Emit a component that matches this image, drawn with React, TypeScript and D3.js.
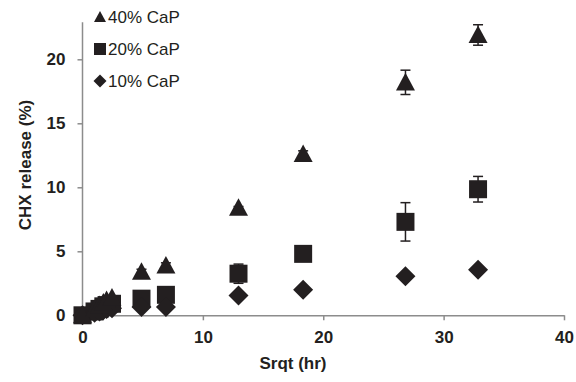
import React, { useEffect, useRef } from "react";
import * as d3 from "d3";

// sqrt(hours) sampling times
const sqrtHours = [0, 1, 1.41, 1.73, 2, 2.45, 4.9, 6.93, 12.96, 18.33, 26.83, 32.86];

const cap40 = [0, 0.5, 0.8, 1.0, 1.2, 1.4, 3.4, 3.9, 8.4, 12.6, 18.2, 21.9];
const cap40Err = [0, 0, 0, 0, 0, 0, 0.2, 0.2, 0.1, 0.25, 0.95, 0.8];

const cap20 = [0, 0.3, 0.5, 0.7, 0.8, 0.9, 1.3, 1.6, 3.25, 4.8, 7.3, 9.85];
const cap20Err = [0, 0, 0, 0, 0, 0, 0.1, 0.2, 0.75, 0.1, 1.5, 1.0];

const cap10 = [0, 0.2, 0.3, 0.4, 0.5, 0.55, 0.65, 0.65, 1.55, 2.0, 3.05, 3.55];
const cap10Err = [0, 0, 0, 0, 0, 0, 0, 0, 0.1, 0, 0, 0];

const seriesNames = ["40% CaP", "20% CaP", "10% CaP"];
const xTicks = [0, 10, 20, 30, 40];
const yTicks = [0, 5, 10, 15, 20];

const shapePath = (kind: string, s: number) => {
  const h = s / 2;
  if (kind === "tri") return `M0,${-h}L${h},${h * 0.85}L${-h},${h * 0.85}Z`;
  if (kind === "sq") return `M${-h},${-h}H${h}V${h}H${-h}Z`;
  return `M0,${-h}L${h},0L0,${h}L${-h},0Z`;
};

export default function App() {
  const ref = useRef<SVGSVGElement>(null);

  useEffect(() => {
    const svg = d3.select(ref.current);
    svg.selectAll("*").remove();

    const x = d3.scaleLinear().domain([0, 40]).range([82.5, 564]);
    const y = d3.scaleLinear().domain([0, 20]).range([315.3, 59.3]);
    const axisColor = "#8c8c8c";
    const font = "Liberation Sans, Arial, sans-serif";

    const xAxis = svg.append("g")
      .attr("transform", `translate(0, ${y(0)})`)
      .call(d3.axisBottom(x).tickValues(xTicks).tickSize(5).tickSizeOuter(0).tickPadding(11));
    const yAxis = svg.append("g")
      .attr("transform", `translate(${x(0)}, 0)`)
      .call(d3.axisLeft(y).tickValues(yTicks).tickSize(5).tickSizeOuter(0).tickPadding(12));
    yAxis.select(".domain").attr("d", `M0,${y(0)}V${y(22.9)}`);

    [xAxis, yAxis].forEach((g) => {
      g.select(".domain").attr("stroke", axisColor).attr("stroke-width", 1.5);
      g.selectAll(".tick line").attr("stroke", axisColor).attr("stroke-width", 1.5);
      g.selectAll(".tick text")
        .attr("fill", "#231f20")
        .style("font-family", font)
        .style("font-size", "17px")
        .style("font-weight", "bold");
    });

    svg.append("text")
      .attr("x", 293).attr("y", 369)
      .attr("text-anchor", "middle")
      .style("font-family", font).style("font-size", "17px").style("font-weight", "bold")
      .attr("fill", "#231f20")
      .text("Srqt (hr)");

    svg.append("text")
      .attr("transform", "translate(31, 165) rotate(-90)")
      .attr("text-anchor", "middle")
      .style("font-family", font).style("font-size", "17px").style("font-weight", "bold")
      .attr("fill", "#231f20")
      .text("CHX release (%)");

    const series = [
      { vals: cap20, err: cap20Err, kind: "sq", size: 18 },
      { vals: cap10, err: cap10Err, kind: "di", size: 20 },
      { vals: cap40, err: cap40Err, kind: "tri", size: 19 },
    ];

    series.forEach((s) => {
      const pts = sqrtHours.map((t, i) => ({ t, v: s.vals[i], e: s.err[i] }));
      const g = svg.append("g");
      const eb = g.selectAll("g.eb").data(pts.filter((p) => p.e > 0)).enter().append("g")
        .attr("stroke", "#231f20").attr("stroke-width", 1.5);
      eb.append("line")
        .attr("x1", (p) => x(p.t)).attr("x2", (p) => x(p.t))
        .attr("y1", (p) => y(p.v - p.e)).attr("y2", (p) => y(p.v + p.e));
      [-1, 1].forEach((sgn) => {
        eb.append("line")
          .attr("x1", (p) => x(p.t) - 5).attr("x2", (p) => x(p.t) + 5)
          .attr("y1", (p) => y(p.v + sgn * p.e)).attr("y2", (p) => y(p.v + sgn * p.e));
      });
      g.selectAll("path.m").data(pts).enter().append("path")
        .attr("d", shapePath(s.kind, s.size))
        .attr("transform", (p) => `translate(${x(p.t)}, ${y(p.v)})`)
        .attr("fill", "#231f20");
    });

    const legendKinds = ["tri", "sq", "di"];
    const legendY = [17, 49, 81];
    seriesNames.forEach((name, i) => {
      svg.append("path")
        .attr("d", shapePath(legendKinds[i], legendKinds[i] === "di" ? 13 : 12))
        .attr("transform", `translate(100, ${legendY[i]})`)
        .attr("fill", "#231f20");
      svg.append("text")
        .attr("x", 108).attr("y", legendY[i]).attr("dy", "0.35em")
        .style("font-family", font).style("font-size", "17px")
        .attr("fill", "#231f20")
        .text(name);
    });
  }, []);

  return (
    <svg ref={ref} width={576} height={382}
      style={{ position: "absolute", left: 0, top: 0, background: "#fff" }} />
  );
}
